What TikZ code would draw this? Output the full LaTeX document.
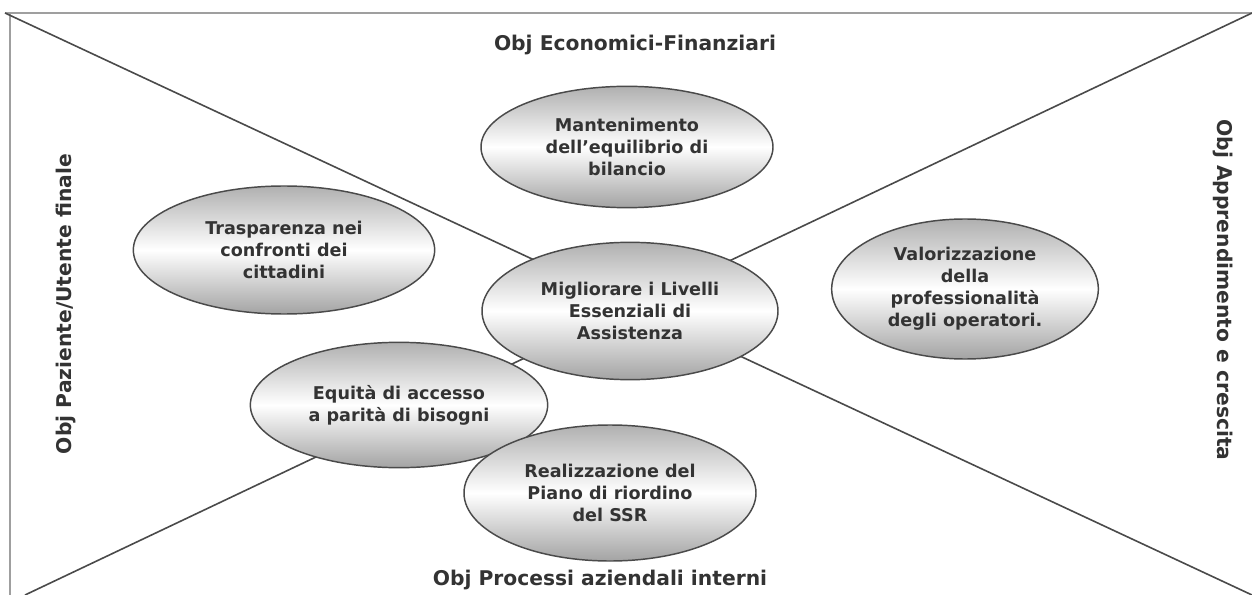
\documentclass[tikz,border=0pt]{standalone}
\usepackage{fontspec}
\setmainfont{DejaVu Sans}
\usetikzlibrary{shapes.geometric}
\definecolor{txt}{HTML}{333333}
\definecolor{ln}{HTML}{4A4A4A}
\tikzset{
  oval/.style={ellipse, draw=ln, line width=1.1pt, inner sep=0pt,
    top color=gray!62, bottom color=gray!72, middle color=white,
    text=txt, font=\bfseries\fontsize{13.2}{16.5}\selectfont, align=center},
  axis/.style={font=\bfseries\fontsize{15.2}{18}\selectfont, text=txt},
  diag/.style={draw=ln, line width=1.2pt},
  frame/.style={draw=gray!75, line width=1.8pt}
}
\begin{document}
\begin{tikzpicture}[x=0.75pt,y=-0.75pt]
\useasboundingbox (0,0) rectangle (1252,595);
\coordinate (tl) at (5,13);
\coordinate (tr) at (1252,13);
\coordinate (bl) at (25,595);
\coordinate (br) at (1252,595);
\coordinate (fl) at (10,13);
\coordinate (flb) at (10,595);
\draw[frame] (tl) -- (tr);
\draw[frame] (fl) -- (flb);
\draw[diag] (tl) -- (br);
\draw[diag] (bl) -- (tr);
\node[axis] (top) at (635,45) {Obj Economici-Finanziari};
\node[axis] (bot) at (600,580) {Obj Processi aziendali interni};
\node[axis, rotate=90] (left) at (66,304) {Obj Paziente/Utente finale};
\node[axis, rotate=-90] (right) at (1223,290) {Obj Apprendimento e crescita};
\node[oval, minimum width=219pt, minimum height=91pt] (mant) at (627,147) {Mantenimento\\dell'equilibrio di\\bilancio};
\node[oval, minimum width=226pt, minimum height=96pt] (trasp) at (284,250) {Trasparenza nei\\confronti dei\\cittadini};
\node[oval, minimum width=222pt, minimum height=103pt] (migl) at (630,311) {Migliorare i Livelli\\Essenziali di\\Assistenza};
\node[oval, minimum width=223pt, minimum height=94pt] (equi) at (399,405) {Equità di accesso\\a parità di bisogni};
\node[oval, minimum width=219pt, minimum height=102pt] (real) at (610,493) {Realizzazione del\\Piano di riordino\\del SSR};
\node[oval, minimum width=200pt, minimum height=105pt] (valo) at (965,289) {Valorizzazione\\della\\professionalità\\degli operatori.};
\end{tikzpicture}
\end{document}
